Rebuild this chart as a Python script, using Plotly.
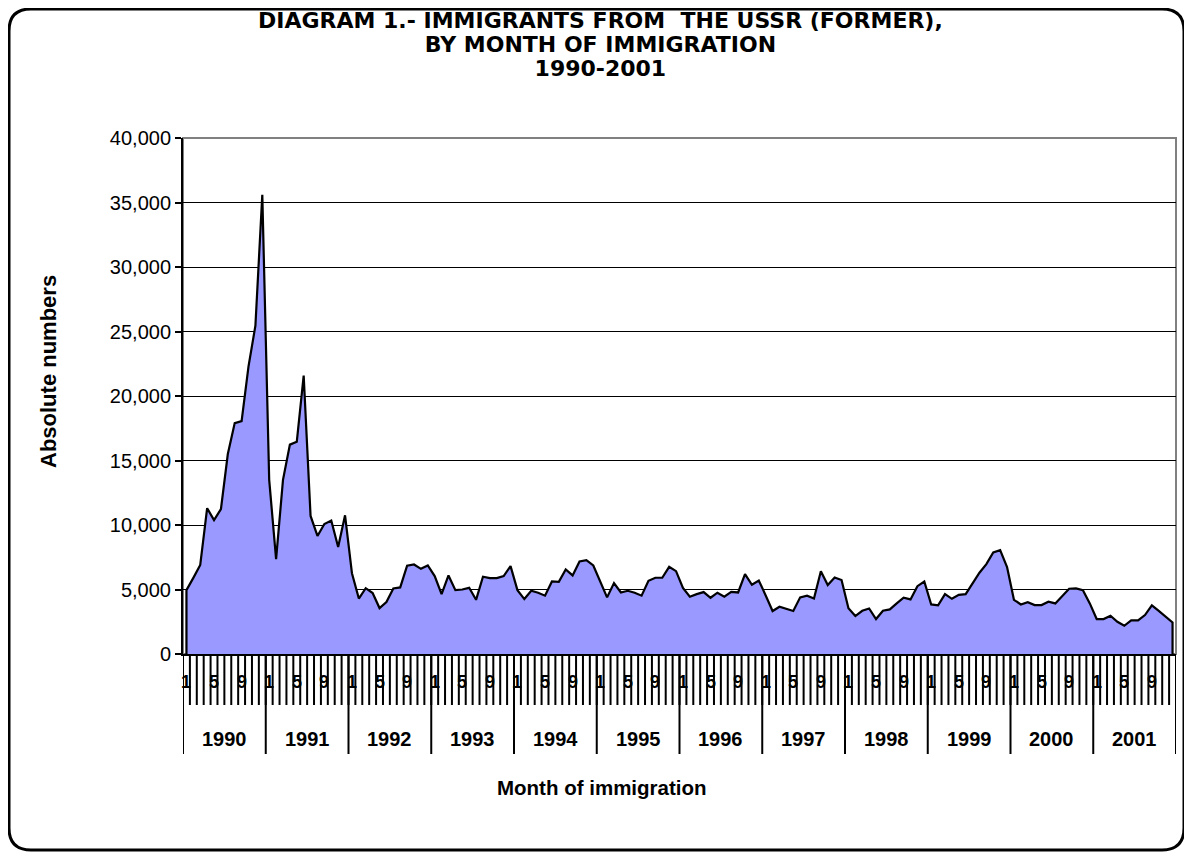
import plotly.graph_objects as go

# ---- data ----
years = ["1990", "1991", "1992", "1993", "1994", "1995",
         "1996", "1997", "1998", "1999", "2000", "2001"]
month_labels = {0: "1", 4: "5", 8: "9"}

v1990 = [4950, 5900, 6900, 11300, 10380, 11230, 15500, 17900, 18050, 22300, 25450, 35600]
v1991 = [13500, 7350, 13500, 16230, 16450, 21580, 10700, 9150, 10080, 10350, 8290, 10750]
v1992 = [6260, 4300, 5100, 4730, 3560, 4025, 5080, 5160, 6840, 6940, 6600, 6860]
v1993 = [6040, 4640, 6090, 4950, 5000, 5130, 4200, 5990, 5880, 5880, 6040, 6810]
v1994 = [4950, 4260, 4900, 4750, 4520, 5620, 5600, 6550, 6090, 7170, 7280, 6860]
v1995 = [5680, 4390, 5500, 4770, 4900, 4750, 4520, 5680, 5910, 5910, 6760, 6420]
v1996 = [5130, 4440, 4640, 4800, 4360, 4750, 4440, 4820, 4770, 6190, 5370, 5700]
v1997 = [4540, 3330, 3660, 3510, 3330, 4390, 4520, 4310, 6420, 5340, 5930, 5730]
v1998 = [3540, 2940, 3350, 3530, 2710, 3350, 3460, 3920, 4360, 4230, 5260, 5620]
v1999 = [3840, 3770, 4640, 4280, 4590, 4640, 5470, 6300, 6970, 7870, 8050, 6740]
v2000 = [4200, 3840, 4020, 3790, 3790, 4050, 3920, 4490, 5060, 5080, 4950, 3920]
v2001 = [2710, 2710, 2970, 2500, 2190, 2610, 2610, 3020, 3770, 3350, 2920, 2450]

series = [v1990, v1991, v1992, v1993, v1994, v1995,
          v1996, v1997, v1998, v1999, v2000, v2001]
values = [v for yr in series for v in yr]
n = len(values)
idx = list(range(n))

FONT = "Arial, Liberation Sans, sans-serif"
TFONT = "DejaVu Sans, Verdana, sans-serif"
OFF = 8                      # page body margin of the html page
W, H = 1192 - OFF, 858 - OFF
L, R, T, B = 183, 1176, 138, 654  # plot area in screen pixels


def px(X):
    return (X - L) / (R - L)


def py(Y):
    return (B - Y) / (B - T)


fig = go.Figure()

fig.add_trace(go.Scatter(
    x=[idx[0]] + idx + [idx[-1]],
    y=[0] + values + [0],
    mode="lines",
    fill="toself",
    fillcolor="#9999FF",
    line=dict(color="black", width=2.2),
    hoverinfo="skip",
    showlegend=False,
))

shapes = []
shapes.append(dict(type="rect", xref="paper", yref="paper", x0=0, x1=1, y0=0, y1=1,
                   line=dict(color="#808080", width=2), layer="below"))

mpath = ""
for k in range(n + 1):
    xk = k - 0.5
    mpath += f"M{xk},{py(656)} L{xk},{py(705)} "
shapes.append(dict(type="path", xref="x", yref="paper", path=mpath,
                   line=dict(color="black", width=2)))
ypath = ""
for k in range(len(years) + 1):
    xk = k * 12 - 0.5
    ypath += f"M{xk},{py(656)} L{xk},{py(754)} "
shapes.append(dict(type="path", xref="x", yref="paper", path=ypath,
                   line=dict(color="black", width=2)))

x0, x1, y0, y1, r = 9, 1184, 9, 850, 22
pts = (f"M{px(x0 + r)},{py(y0)} L{px(x1 - r)},{py(y0)} "
       f"Q{px(x1)},{py(y0)} {px(x1)},{py(y0 + r)} "
       f"L{px(x1)},{py(y1 - r)} Q{px(x1)},{py(y1)} {px(x1 - r)},{py(y1)} "
       f"L{px(x0 + r)},{py(y1)} Q{px(x0)},{py(y1)} {px(x0)},{py(y1 - r)} "
       f"L{px(x0)},{py(y0 + r)} Q{px(x0)},{py(y0)} {px(x0 + r)},{py(y0)} Z")
shapes.append(dict(type="path", xref="paper", yref="paper", path=pts,
                   line=dict(color="black", width=3)))

annotations = []
for yi in range(len(years)):
    for m, lab in month_labels.items():
        annotations.append(dict(x=yi * 12 + m, y=py(682), xref="x", yref="paper",
                                text=f"<b>{lab}</b>", showarrow=False,
                                font=dict(family=FONT, size=18, color="black"),
                                xanchor="center", yanchor="middle"))
for yi, yr in enumerate(years):
    annotations.append(dict(x=yi * 12 + 5.5, y=py(739), xref="x", yref="paper",
                            text=f"<b>{yr}</b>", showarrow=False,
                            font=dict(family=FONT, size=20, color="black"),
                            xanchor="center", yanchor="middle"))

title_lines = ["DIAGRAM 1.- IMMIGRANTS FROM&nbsp; THE USSR (FORMER),",
               "BY MONTH OF IMMIGRATION", "1990-2001"]
title_text = "<br>".join(f"<span style='font-size:22px'><b>{t}</b></span>" for t in title_lines)
annotations.append(dict(x=px(600), y=py(45), xref="paper", yref="paper",
                        text=title_text, showarrow=False, align="center",
                        font=dict(family=TFONT, size=18.5, color="black"),
                        xanchor="center", yanchor="middle"))
annotations.append(dict(x=px(602), y=py(787), xref="paper", yref="paper",
                        text="<b>Month of immigration</b>", showarrow=False,
                        font=dict(family=FONT, size=20.5, color="black"),
                        xanchor="center", yanchor="middle"))
annotations.append(dict(x=px(48), y=py(372), xref="paper", yref="paper",
                        text="<b>Absolute numbers</b>", showarrow=False, textangle=-90,
                        font=dict(family=FONT, size=22, color="black"),
                        xanchor="center", yanchor="middle"))

fig.update_layout(
    width=W, height=H,
    margin=dict(l=L - OFF, r=W - (R - OFF), t=T - OFF, b=H - (B - OFF), pad=0),
    paper_bgcolor="white", plot_bgcolor="white",
    shapes=shapes, annotations=annotations,
    showlegend=False,
    font=dict(family=FONT, size=20, color="black"),
)
fig.update_xaxes(range=[-0.5, n - 0.5], showgrid=False, zeroline=False,
                 showticklabels=False, ticks="", showline=True,
                 linecolor="black", linewidth=2)
fig.update_yaxes(range=[0, 40000], dtick=5000, tickformat=",",
                 showgrid=True, gridcolor="black", gridwidth=1, zeroline=False,
                 showline=True, linecolor="black", linewidth=2,
                 ticks="outside", ticklen=6, tickwidth=2, tickcolor="black",
                 tickfont=dict(family=FONT, size=20, color="black"))

fig.write_html("out.html")
